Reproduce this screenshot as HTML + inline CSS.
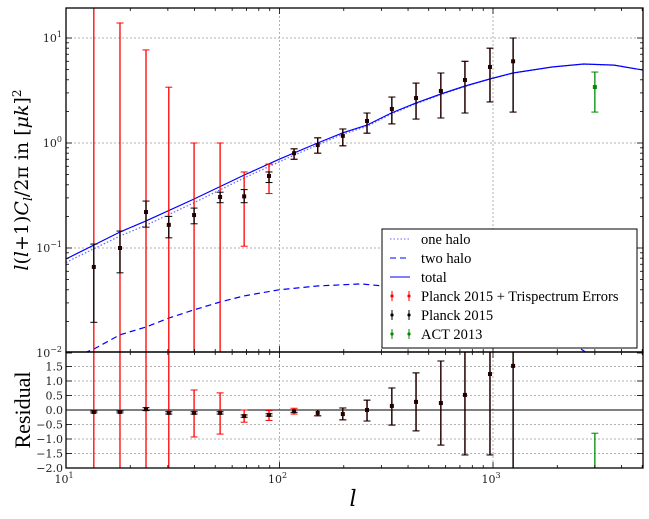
<!DOCTYPE html>
<html><head><meta charset="utf-8"><style>
html,body{margin:0;padding:0;background:#fff;width:649px;height:519px;overflow:hidden}
svg{display:block;font-family:"DejaVu Serif","Liberation Serif",serif}
</style></head><body>
<svg id="c" width="649" height="519" viewBox="0 0 649 519" xmlns="http://www.w3.org/2000/svg">
<defs>
<clipPath id="cu"><rect x="66" y="8" width="577" height="344"/></clipPath>
<clipPath id="cl"><rect x="66" y="352" width="577" height="116"/></clipPath>
</defs>
<g id="grid"></g>
<g id="upper" clip-path="url(#cu)"></g>
<g id="lower" clip-path="url(#cl)"></g>
<g id="axes"></g>
<g font-family="'Liberation Serif',serif">
<rect x="382" y="229" width="255" height="119" fill="#fff" stroke="#000" stroke-width="1"/>
<line x1="390" y1="239" x2="410" y2="239" stroke="#6666ff" stroke-dasharray="1.5,2"/>
<text x="421" y="244" font-size="14.5">one halo</text>
<line x1="390" y1="258" x2="410" y2="258" stroke="#0000ff" stroke-dasharray="6,4"/>
<text x="421" y="263" font-size="14.5">two halo</text>
<line x1="390" y1="277" x2="410" y2="277" stroke="#0000ff"/>
<text x="421" y="282" font-size="14.5">total</text>
<g stroke="#f00"><line x1="392" y1="291" x2="392" y2="301"/><line x1="409" y1="291" x2="409" y2="301"/></g><circle cx="392" cy="296" r="1.6" fill="#f00"/><circle cx="409" cy="296" r="1.6" fill="#f00"/>
<text x="421" y="301" font-size="14.5">Planck 2015 + Trispectrum Errors</text>
<g stroke="#000"><line x1="392" y1="310" x2="392" y2="320"/><line x1="409" y1="310" x2="409" y2="320"/></g><circle cx="392" cy="315" r="1.6"/><circle cx="409" cy="315" r="1.6"/>
<text x="421" y="320" font-size="14.5">Planck 2015</text>
<g stroke="#080"><line x1="392" y1="329" x2="392" y2="339"/><line x1="409" y1="329" x2="409" y2="339"/></g><circle cx="392" cy="334" r="1.6" fill="#080"/><circle cx="409" cy="334" r="1.6" fill="#080"/>
<text x="421" y="339" font-size="14.5">ACT 2013</text>
</g>
<text transform="translate(28,180) rotate(-90)" text-anchor="middle" font-size="19"><tspan font-style="italic">l</tspan>(<tspan font-style="italic">l</tspan>+1)<tspan font-style="italic">C</tspan><tspan font-size="12" dy="4" font-style="italic">l</tspan><tspan dy="-4">/2π in [</tspan><tspan font-style="italic">μk</tspan>]<tspan font-size="12" dy="-7">2</tspan></text>
<text transform="translate(30,410) rotate(-90)" text-anchor="middle" font-size="22" font-family="'Liberation Serif',serif">Residual</text>
<text x="353" y="506" text-anchor="middle" font-size="22" font-style="italic">l</text>
</svg>
<script>
const ell=[13.5,17.9,23.7,30.3,39.8,52.7,68.3,89.3,117,151,198,257,336,436,570,739,968,1242];
const cl=[0.066,0.10,0.22,0.166,0.206,0.306,0.31,0.485,0.80,0.955,1.17,1.62,2.11,2.68,3.13,3.98,5.3,6.0];
const clLo=[0.0196,0.058,0.158,0.125,0.17,0.27,0.27,0.42,0.70,0.80,0.94,1.24,1.52,1.69,1.73,1.93,2.46,1.97];
const clHi=[0.109,0.145,0.28,0.20,0.24,0.34,0.36,0.53,0.88,1.12,1.36,1.93,2.74,3.72,4.64,6.0,8.0,10.0];
const redLo=[0.001,0.001,0.001,0.001,0.001,0.001,0.104,0.33,0.70,0.80,0.94,1.24,1.52,1.69,1.73,1.93,2.46,1.97];
const redHi=[100,13.9,7.7,3.4,1.0,1.0,0.53,0.63,0.88,1.12,1.36,1.93,2.74,3.72,4.64,6.0,8.0,10.0];
const res=[-0.07,-0.07,0.03,-0.1,-0.1,-0.1,-0.21,-0.17,-0.04,-0.1,-0.14,0,0.14,0.28,0.24,0.52,1.24,1.52];
const resLo=[-0.1,-0.1,-0.02,-0.14,-0.14,-0.14,-0.25,-0.21,-0.08,-0.2,-0.34,-0.38,-0.52,-0.72,-1.21,-1.55,-1.55,-5];
const resHi=[-0.04,-0.04,0.08,-0.06,-0.06,-0.06,-0.17,-0.13,0.0,0.0,0.07,0.34,0.76,1.28,1.69,5,5,5];
const resRedLo=[-5,-5,-5,-5,-0.93,-0.83,-0.42,-0.36,-0.14,-0.2,-0.34,-0.38,-0.52,-0.72,-1.21,-1.55,-1.55,-5];
const resRedHi=[5,5,5,5,0.69,0.59,0.0,-0.02,0.06,0.0,0.07,0.34,0.76,1.28,1.69,5,5,5];
const actEll=[3000], actCl=[3.41], actLo=[1.97], actHi=[4.74], actRes=[-2.5], actResLo=[-5], actResHi=[-0.8];
const modelEll=[10,17.9,23.7,39.8,68.4,99.5,151,198,257,334,435,570,740,965,1240,1890,2660,3690,5050];
const totalCl=[0.0785,0.142,0.181,0.293,0.496,0.70,1.0,1.25,1.48,1.93,2.40,2.93,3.49,4.07,4.64,5.30,5.65,5.52,4.95];
const oneHaloCl=[0.073,0.13,0.165,0.27,0.465,0.66,0.96,1.21,1.44,1.89,2.36,2.89,3.46,4.05,4.62,5.29,5.64,5.52,4.95];
const twoEll=[10,13.5,17.9,23.7,30.3,39.8,52.7,68.3,99.5,150,240,366,630,1080,1850,2660,3500];
const twoHaloCl=[0.0085,0.0109,0.0149,0.0177,0.0215,0.0258,0.0306,0.035,0.040,0.0435,0.0455,0.042,0.036,0.026,0.0165,0.0105,0.007];
const yTicksU=[10,1,0.1,0.01], yTickLabU=["1","0","−1","−2"];
const yTicksL=[1.5,1.0,0.5,0.0,-0.5,-1.0,-1.5,-2.0];
const xTicks=[10,100,1000], xTickLab=["1","2","3"];

const NS="http://www.w3.org/2000/svg";
const X0=66,X1=643,UT=8,UB=352,LT=352,LB=468;
const DEC=213.5;
function sx(l){return X0+(Math.log10(l)-1)*DEC;}
function syRaw(v){return 143-Math.log10(v)*105;}
function syU(v){return Math.min(UB+4,Math.max(UT-4,syRaw(v)));}
function syL(v){return Math.min(LB+4,Math.max(LT-4,410-v*29));}
function mk(p,tag,a){const e=document.createElementNS(NS,tag);for(const k in a)e.setAttribute(k,a[k]);p.appendChild(e);return e;}
const G=document.getElementById('grid'),U=document.getElementById('upper'),L=document.getElementById('lower'),A=document.getElementById('axes');
const gs={stroke:"#b0b0b0","stroke-dasharray":"2,2","stroke-width":1};
xTicks.slice(1).forEach(t=>{mk(G,'line',Object.assign({x1:sx(t),x2:sx(t),y1:UT,y2:UB},gs));mk(G,'line',Object.assign({x1:sx(t),x2:sx(t),y1:LT,y2:LB},gs));});
yTicksU.slice(0,3).forEach(t=>mk(G,'line',Object.assign({x1:X0,x2:X1,y1:syU(t),y2:syU(t)},gs)));
yTicksL.forEach(t=>{if(t!==0&&t!==-2)mk(G,'line',Object.assign({x1:X0,x2:X1,y1:syL(t),y2:syL(t)},gs));});
function line(g,xs,ys,fy,attrs,name){const p=mk(g,'polyline',Object.assign({points:xs.map((x,i)=>sx(x).toFixed(1)+","+fy(ys[i]).toFixed(1)).join(" "),fill:"none"},attrs));}
line(U,twoEll,twoHaloCl,syRaw,{stroke:"#0000ff","stroke-dasharray":"6,4","stroke-width":1.2},'two-halo-line');
line(U,modelEll,oneHaloCl,syRaw,{stroke:"#6666ff","stroke-dasharray":"1.5,2","stroke-width":1.2},'one-halo-line');
line(U,modelEll,totalCl,syRaw,{stroke:"#0000ff","stroke-width":1.2},'total-line');
mk(L,'line',{x1:X0,x2:X1,y1:syL(0),y2:syL(0),stroke:"#000","stroke-width":1});
function eb(g,l,lo,hi,col,cap,name){const x=sx(l);const e=mk(g,'g',{stroke:col,"stroke-width":1.3});mk(e,'line',{x1:x,x2:x,y1:lo,y2:hi});if(cap){mk(e,'line',{x1:x-3.5,x2:x+3.5,y1:lo,y2:lo,"stroke-width":1});mk(e,'line',{x1:x-3.5,x2:x+3.5,y1:hi,y2:hi,"stroke-width":1});}}
function pt(g,l,y,col,name){const c=mk(g,'rect',{x:sx(l)-2,y:y-2,width:4,height:4,fill:col});}
ell.forEach((l,i)=>{
 eb(U,l,syU(redLo[i]),syU(redHi[i]),"#f00",true,'trispectrum-errorbar');
 eb(U,l,syU(clLo[i]),syU(clHi[i]),"#000",true,'planck-errorbar');
 pt(U,l,syU(cl[i]),"#200",'planck-point');
 eb(L,l,syL(resRedLo[i]),syL(resRedHi[i]),"#f00",true,'residual-trispectrum-errorbar');
 eb(L,l,syL(resLo[i]),syL(resHi[i]),"#000",true,'residual-planck-errorbar');
 pt(L,l,syL(res[i]),"#200",'residual-point');
});
actEll.forEach((l,i)=>{
 eb(U,l,syU(actLo[i]),syU(actHi[i]),"#080",true,'act-errorbar');
 pt(U,l,syU(actCl[i]),"#080",'act-point');
 eb(L,l,syL(actResLo[i]),syL(actResHi[i]),"#080",true,'act-residual-errorbar');
});
mk(A,'rect',{x:X0,y:UT,width:X1-X0,height:UB-UT,fill:"none",stroke:"#000","stroke-width":1.3});
mk(A,'rect',{x:X0,y:LT,width:X1-X0,height:LB-LT,fill:"none",stroke:"#000","stroke-width":1.3});
for(let d=1;d<=3;d++)for(let m=1;m<=9;m++){const l=m*Math.pow(10,d);const x=sx(l);if(x>X1)continue;const len=m===1?6:3;
 [[UT,1],[UB,-1],[LT,1],[LB,-1]].forEach(([y,s])=>mk(A,'line',{x1:x,x2:x,y1:y,y2:y+s*len,stroke:"#000","stroke-width":0.8}));}
xTicks.forEach((t,i)=>{const tx=mk(A,'text',{x:sx(t)-2,y:483,"font-size":11,"text-anchor":"middle",fill:"#222"});tx.textContent="10";const s=mk(tx,'tspan',{dy:-5,"font-size":8});s.textContent=xTickLab[i];});
for(let d=-2;d<=1;d++)for(let m=1;m<=9;m++){const v=m*Math.pow(10,d);const y=syRaw(v);if(y<UT)continue;const len=m===1?6:3;
 mk(A,'line',{x1:X0,x2:X0+len,y1:y,y2:y,stroke:"#000","stroke-width":0.8});mk(A,'line',{x1:X1,x2:X1-len,y1:y,y2:y,stroke:"#000","stroke-width":0.8});}
yTicksU.forEach((t,i)=>{const tx=mk(A,'text',{x:X0-4,y:syU(t)+4,"font-size":11,"text-anchor":"end",fill:"#222"});tx.textContent="10";const s=mk(tx,'tspan',{dy:-5,"font-size":8});s.textContent=yTickLabU[i];});
yTicksL.forEach(t=>{const y=syL(t);mk(A,'line',{x1:X0,x2:X0+6,y1:y,y2:y,stroke:"#000","stroke-width":0.8});mk(A,'line',{x1:X1,x2:X1-6,y1:y,y2:y,stroke:"#000","stroke-width":0.8});
 const tx=mk(A,'text',{x:X0-3,y:y+4,"font-size":11,"text-anchor":"end",fill:"#222"});tx.textContent=(t<0?"−":"")+Math.abs(t).toFixed(1);});
</script>
</body></html>
